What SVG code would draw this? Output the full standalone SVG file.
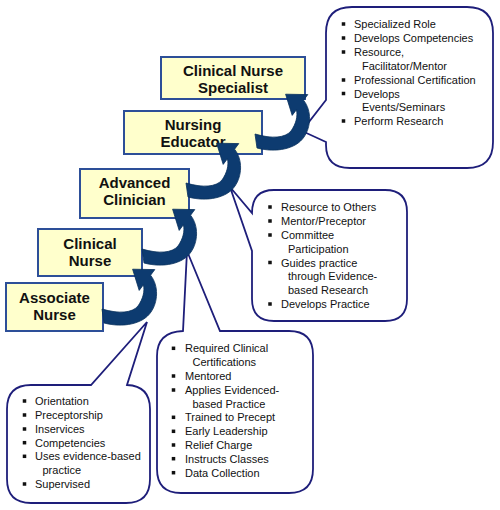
<svg xmlns="http://www.w3.org/2000/svg" xmlns:xlink="http://www.w3.org/1999/xlink" width="500" height="510" viewBox="0 0 500 510">
<style>
.box{fill:#FFFFCC;stroke:#2d4f98;stroke-width:2}
.bt{font-family:"Liberation Sans",Arial,sans-serif;font-size:15px;font-weight:bold;fill:#111;text-anchor:middle}
.co{fill:#fff;stroke:#1e1e7a;stroke-width:1.8;stroke-linejoin:miter}
.li{font-family:"Liberation Sans",Arial,sans-serif;font-size:11px;fill:#111}
.arr{fill:#0d3b70;stroke:#08305c;stroke-width:0.8}
</style>
<defs>
<rect id="b" x="-1.75" y="-1.75" width="3.5" height="3.5" fill="#111"/>
<path id="a" d="M -1,-7 C 16,-2 29,-3 35,-10 C 40,-17 42,-25 40.4,-31.2 L 36.2,-25.6 L 29.6,-46.8 L 51.8,-46.4 L 47.6,-40.8 C 56,-30 55,-14 48,-4 C 40,8 20,12 1,7 Z"/>
</defs>
<rect width="500" height="510" fill="#fff"/>

<g id="callout-specialist">
<path class="co" d="M 352,7 H 467 Q 493,7 493,33 V 142 Q 493,168 467,168 H 350 Q 326,168 326,145 V 142 L 302,131 L 326,100 V 33 Q 326,7 352,7 Z"/>
<use href="#b" x="343.5" y="24"/><text class="li" x="354" y="28">Specialized Role</text>
<use href="#b" x="343.5" y="38"/><text class="li" x="354" y="42">Develops Competencies</text>
<use href="#b" x="343.5" y="52"/><text class="li" x="354" y="56">Resource,</text>
<text class="li" x="362" y="70">Facilitator/Mentor</text>
<use href="#b" x="343.5" y="80"/><text class="li" x="354" y="84">Professional Certification</text>
<use href="#b" x="343.5" y="93.5"/><text class="li" x="354" y="97.5">Develops</text>
<text class="li" x="362" y="111">Events/Seminars</text>
<use href="#b" x="343.5" y="121"/><text class="li" x="354" y="125">Perform Research</text>
</g>

<g id="callout-educator">
<path class="co" d="M 274,190 H 385 Q 407,190 407,212 V 299 Q 407,321 385,321 H 274 Q 252,321 252,299 V 251 L 230,187 L 252,213 Q 252,190 274,190 Z"/>
<use href="#b" x="270" y="207"/><text class="li" x="281" y="211">Resource to Others</text>
<use href="#b" x="270" y="221"/><text class="li" x="281" y="225">Mentor/Preceptor</text>
<use href="#b" x="270" y="235"/><text class="li" x="281" y="239">Committee</text>
<text class="li" x="288" y="252.5">Participation</text>
<use href="#b" x="270" y="262.5"/><text class="li" x="281" y="266.5">Guides practice</text>
<text class="li" x="288" y="280">through Evidence-</text>
<text class="li" x="288" y="294">based Research</text>
<use href="#b" x="270" y="304"/><text class="li" x="281" y="308">Develops Practice</text>
</g>

<g id="callout-clinician">
<path class="co" d="M 183,331 L 187,251 L 220,331 H 289 Q 313,331 313,355 V 469 Q 313,493 289,493 H 181 Q 157,493 157,469 V 356 Q 157,332 183,331 Z"/>
<use href="#b" x="173.5" y="348.3"/><text class="li" x="185" y="352.3">Required Clinical</text>
<text class="li" x="192.5" y="366.3">Certifications</text>
<use href="#b" x="173.5" y="376"/><text class="li" x="185" y="380">Mentored</text>
<use href="#b" x="173.5" y="390"/><text class="li" x="185" y="394">Applies Evidenced-</text>
<text class="li" x="192.5" y="407.7">based Practice</text>
<use href="#b" x="173.5" y="417.3"/><text class="li" x="185" y="421.3">Trained to Precept</text>
<use href="#b" x="173.5" y="431.3"/><text class="li" x="185" y="435.3">Early Leadership</text>
<use href="#b" x="173.5" y="445"/><text class="li" x="185" y="449">Relief Charge</text>
<use href="#b" x="173.5" y="458.7"/><text class="li" x="185" y="462.7">Instructs Classes</text>
<use href="#b" x="173.5" y="472.7"/><text class="li" x="185" y="476.7">Data Collection</text>
</g>

<g id="callout-nurse">
<path class="co" d="M 31,385 H 91 L 147,322 L 127,385 Q 150,386 150,409 V 479 Q 150,503 126,503 H 31 Q 7,503 7,479 V 409 Q 7,385 31,385 Z"/>
<use href="#b" x="24.5" y="401"/><text class="li" x="35" y="405">Orientation</text>
<use href="#b" x="24.5" y="415"/><text class="li" x="35" y="419">Preceptorship</text>
<use href="#b" x="24.5" y="429"/><text class="li" x="35" y="433">Inservices</text>
<use href="#b" x="24.5" y="442.7"/><text class="li" x="35" y="446.7">Competencies</text>
<use href="#b" x="24.5" y="456.3"/><text class="li" x="35" y="460.3">Uses evidence-based</text>
<text class="li" x="42.5" y="474.3">practice</text>
<use href="#b" x="24.5" y="484"/><text class="li" x="35" y="488">Supervised</text>
</g>

<g id="node-cns">
<rect class="box" x="161" y="57" width="144" height="42"/>
<text class="bt" x="233" y="75.5">Clinical Nurse</text>
<text class="bt" x="233" y="92.5">Specialist</text>
</g>
<g id="node-educator">
<rect class="box" x="124" y="111" width="138" height="43"/>
<text class="bt" x="193" y="130">Nursing</text>
<text class="bt" x="193" y="146.5">Educator</text>
</g>
<g id="node-advanced">
<rect class="box" x="80" y="169" width="109" height="49"/>
<text class="bt" x="134.5" y="188">Advanced</text>
<text class="bt" x="134.5" y="204.5">Clinician</text>
</g>
<g id="node-clinical">
<rect class="box" x="38" y="229" width="104" height="47"/>
<text class="bt" x="90" y="249">Clinical</text>
<text class="bt" x="90" y="265.5">Nurse</text>
</g>
<g id="node-associate">
<rect class="box" x="6" y="283" width="97" height="48"/>
<text class="bt" x="54.5" y="302.5">Associate</text>
<text class="bt" x="54.5" y="319.5">Nurse</text>
</g>

<g id="connectors">
<use href="#a" class="arr" x="103" y="316"/>
<use href="#a" class="arr" x="143" y="256"/>
<use href="#a" class="arr" x="187" y="190"/>
<use href="#a" class="arr" x="256" y="141"/>
</g>
</svg>
